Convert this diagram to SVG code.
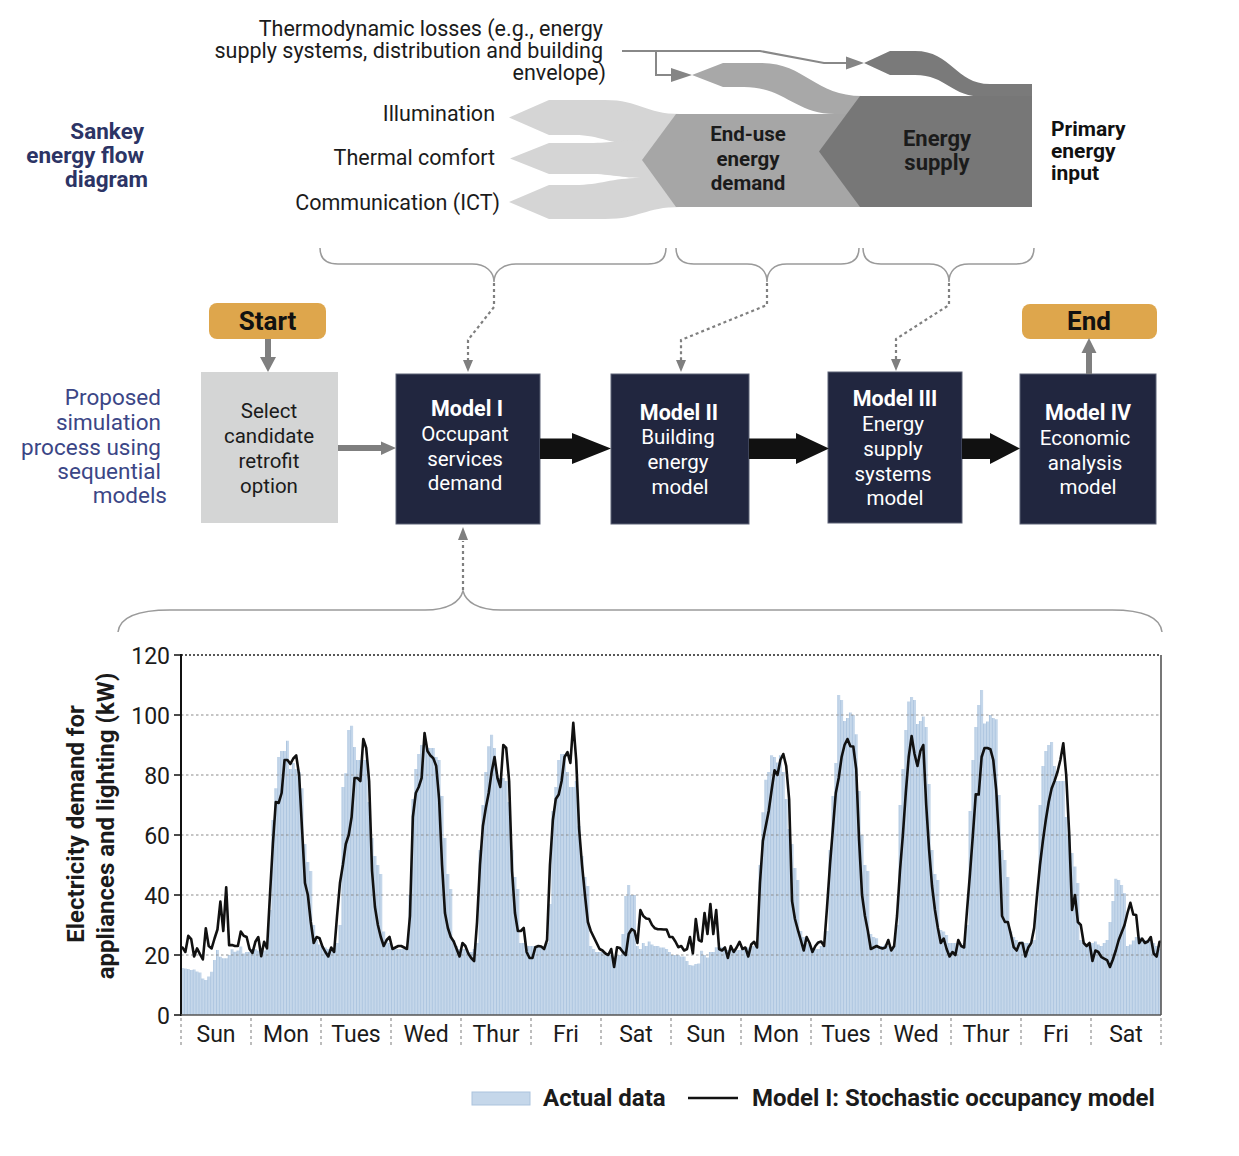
<svg xmlns="http://www.w3.org/2000/svg" width="1239" height="1156" viewBox="0 0 1239 1156">
<style>
text{font-family:Roboto,"Liberation Sans",Arial,sans-serif}
.sk{font-size:21.5px;fill:#1b1b1b;text-anchor:end}
.ttl{font-size:22.5px;font-weight:700;fill:#2c3465;text-anchor:end}
.prop{font-size:22.5px;fill:#3b4686;text-anchor:end}
.blk{font-weight:700;fill:#1b1b1b;text-anchor:middle}
.pri{font-size:21px;font-weight:700;fill:#111}
.bx{font-size:20.5px;fill:#fff;text-anchor:middle}
.bxb{font-size:21.5px;font-weight:700;fill:#fff;text-anchor:middle}
.sel{font-size:20.5px;fill:#1b1b1b;text-anchor:middle}
.term{font-size:26px;font-weight:700;fill:#111;text-anchor:middle}
.ytk{font-size:23px;fill:#1b1b1b;text-anchor:end}
.day{font-size:23px;fill:#1b1b1b;text-anchor:middle}
.axt{font-size:24px;font-weight:700;fill:#1b1b1b;text-anchor:middle}
.leg{font-size:24px;font-weight:700;fill:#1b1b1b}
.model{fill:#21263f;stroke:#5d6277;stroke-width:1}
.gold{fill:#dea64c}
.brace{fill:none;stroke:#9a9a9a;stroke-width:1.5}
.dot{fill:none;stroke:#7f7f7f;stroke-width:2.2;stroke-dasharray:3 3}
.grid{stroke:#8c8c8c;stroke-width:1.2;stroke-dasharray:2.5 2.5}
.sep{stroke:#9a9a9a;stroke-width:1.3;stroke-dasharray:3 3}
</style>
<defs>
<pattern id="barpat" patternUnits="userSpaceOnUse" width="1" height="10">
<rect width="1" height="10" fill="#c5d7ea"/>
<rect width="0.22" height="10" fill="#a3bedb"/>
</pattern>
</defs>
<rect width="1239" height="1156" fill="#fff"/>

<!-- Titles -->
<g id="sankey-title">
<text class="ttl" x="144" y="139">Sankey</text>
<text class="ttl" x="144" y="163">energy flow</text>
<text class="ttl" x="148" y="187">diagram</text>
</g>
<g id="process-title">
<text class="prop" x="161" y="405">Proposed</text>
<text class="prop" x="161" y="430">simulation</text>
<text class="prop" x="161" y="455">process using</text>
<text class="prop" x="161" y="479">sequential</text>
<text class="prop" x="167" y="503">models</text>
</g>

<!-- Sankey diagram -->
<g id="sankey-labels">
<text class="sk" x="603" y="36">Thermodynamic losses (e.g., energy</text>
<text class="sk" x="603" y="58">supply systems, distribution and building</text>
<text class="sk" x="606" y="80">envelope)</text>
<text class="sk" x="495" y="121">Illumination</text>
<text class="sk" x="495" y="165">Thermal comfort</text>
<text class="sk" x="500" y="210">Communication (ICT)</text>
</g>
<g id="sankey-outputs" fill="#d5d5d5">
<path d="M509,117.5 L549,100 L605,100 C640,100 645,114 680,114 L680,145 L640,145 C612,145 600,135 575,135 L549,135 Z"/>
<path d="M510,158.5 L549,143 L590,143 C612,143 620,140 645,140 L680,140 L680,178 L645,178 C620,178 612,174 590,174 L549,174 Z"/>
<path d="M509,202 L549,185 L575,185 C600,185 612,178 640,178 L680,178 L680,207 C645,207 640,219 605,219 L549,219 Z"/>
</g>
<g id="sankey-losses">
<path d="M692,75 L723,63 L761,63 C805,63 815,96 862,96 L862,114 L835,114 C795,114 785,87 744,87 L723,87 Z" fill="#a8a8a8"/>
<path d="M864,63 L890,51 L915,51 C952,51 955,84 990,84 L1032,84 L1032,97 L985,97 C950,97 947,75 915,75 L890,75 Z" fill="#7a7a7a"/>
</g>
<g id="sankey-enduse">
<path d="M642,160 L676,114 L860,114 L860,207 L676,207 Z" fill="#a6a6a6"/>
<text class="blk" font-size="20.5" x="748" y="141">End-use</text>
<text class="blk" font-size="20.5" x="748" y="166">energy</text>
<text class="blk" font-size="20.5" x="748" y="190">demand</text>
</g>
<g id="sankey-supply">
<path d="M819,151.5 L860,96 L1032,96 L1032,207 L860,207 Z" fill="#777777"/>
<text class="blk" font-size="22" x="937" y="146">Energy</text>
<text class="blk" font-size="22" x="937" y="170">supply</text>
</g>
<g id="sankey-primary">
<text class="pri" x="1051" y="136">Primary</text>
<text class="pri" x="1051" y="158">energy</text>
<text class="pri" x="1051" y="180">input</text>
</g>

<!-- Flow nodes -->
<g id="node-start">
<rect class="gold" x="209" y="303" width="117" height="36" rx="8"/>
<text class="term" x="267.5" y="329.5">Start</text>
</g>
<g id="node-select">
<rect x="201" y="372" width="137" height="151" fill="#d4d5d5"/>
<text class="sel" x="269" y="418">Select</text>
<text class="sel" x="269" y="443">candidate</text>
<text class="sel" x="269" y="468">retrofit</text>
<text class="sel" x="269" y="493">option</text>
</g>
<g id="node-model1">
<rect class="model" x="396" y="374" width="144" height="150"/>
<text class="bxb" x="467" y="416">Model I</text>
<text class="bx" x="465" y="441">Occupant</text>
<text class="bx" x="465" y="466">services</text>
<text class="bx" x="465" y="490">demand</text>
</g>
<g id="node-model2">
<rect class="model" x="611" y="374" width="138" height="150"/>
<text class="bxb" x="679" y="420">Model II</text>
<text class="bx" x="678" y="444">Building</text>
<text class="bx" x="678" y="469">energy</text>
<text class="bx" x="680" y="494">model</text>
</g>
<g id="node-model3">
<rect class="model" x="828" y="372" width="134" height="151"/>
<text class="bxb" x="895" y="406">Model III</text>
<text class="bx" x="893" y="431">Energy</text>
<text class="bx" x="893" y="456">supply</text>
<text class="bx" x="893" y="481">systems</text>
<text class="bx" x="895" y="505">model</text>
</g>
<g id="node-model4">
<rect class="model" x="1020" y="374" width="136" height="150"/>
<text class="bxb" x="1088" y="420">Model IV</text>
<text class="bx" x="1085" y="445">Economic</text>
<text class="bx" x="1085" y="470">analysis</text>
<text class="bx" x="1088" y="494">model</text>
</g>
<g id="node-end">
<rect class="gold" x="1022" y="304" width="135" height="35" rx="8"/>
<text class="term" x="1089" y="330">End</text>
</g>

<!-- Connectors -->
<g id="connectors">
<path d="M622,51 L760,51 L824,63 L848,63 M656,51 L656,75 L673,75" fill="none" stroke="#888" stroke-width="2"/>
<path d="M846,56.5 L864,63 L846,69.5 Z M671,68 L692,75 L671,82 Z" fill="#858585"/>
<path class="brace" d="M320,248 C320,258 326,264 338,264 L472,264 C486,264 494,272 494,282 C494,272 502,264 516,264 L648,264 C660,264 666,258 666,248"/>
<path class="brace" d="M676,248 C676,258 682,264 694,264 L747,264 C761,264 767,272 767,282 C767,272 773,264 787,264 L841,264 C853,264 859,258 859,248"/>
<path class="brace" d="M863,248 C863,258 869,264 881,264 L929,264 C943,264 949,272 949,282 C949,272 955,264 969,264 L1016,264 C1028,264 1034,258 1034,248"/>
<path class="brace" d="M118,632 C120,616 140,610 170,610 L425,610 C448,610 460,602 463,591 C466,602 478,610 501,610 L1112,610 C1142,610 1160,616 1162,632"/>
<path class="dot" d="M494,283 L494,307 L468,340 L468,361"/>
<path class="dot" d="M767,283 L767,305 L681,340 L681,361"/>
<path class="dot" d="M949,283 L949,305 L896,339 L896,360"/>
<path class="dot" d="M463,590 L463,541"/>
<path d="M463,360 L473,360 L468,372 Z M676,360 L686,360 L681,372 Z M891,359 L901,359 L896,371 Z M458,540 L468,540 L463,527 Z" fill="#7f7f7f"/>
<path d="M265,339 H271 V357 H276 L268,372 L260,357 H265 Z" fill="#7f7f7f"/>
<path d="M338,445 H381 V441.5 L396,448 L381,455 V451 H338 Z" fill="#7f7f7f"/>
<path d="M1086,374 V353 H1081.5 L1089,338 L1096.5,353 H1092 V374 Z" fill="#7f7f7f"/>
<path d="M540,438.5 H572 V433 L611,448.5 L572,464 V459 H540 Z" fill="#111"/>
<path d="M749,438.5 H796 V433 L829,448.5 L796,464 V459 H749 Z" fill="#111"/>
<path d="M962,438.5 H990 V433 L1020,448.5 L990,464 V459 H962 Z" fill="#111"/>
</g>

<!-- Chart -->
<g id="chart">
<g transform="translate(181,1015) scale(2.916667,-3)">
<path fill="url(#barpat)" d="M0,0V15.7h1V15.5h1V15.3h1V15h1V15.2h1V14.5h1V14.2h1V12.2h1V11.7h1V12.8h1V14.4h1V18.3h1V21.7h1V19.4h1V18.9h1V18.9h1V20h1V21.9h1V21.1h1V21.5h1V22.8h1V20.5h1V21h1V21h1V22h1V22h1V21.5h1V21h1V21.5h1V22h1V35h1V65h1V75.6h1V86h1V88h1V88h1V91.4h1V82h1V84h1V82h1V81h1V75.6h1V57h1V51h1V48h1V30h1V25h1V23.5h1V23h1V22.5h1V22h1V22h1V22.5h1V24h1V30h1V76h1V80.6h1V95h1V96.4h1V89.3h1V85h1V85h1V85h1V85h1V71h1V59h1V53h1V50h1V47h1V27.8h1V25h1V24h1V22h1V22h1V22h1V22h1V22h1V22h1V40h1V72h1V82h1V87h1V90h1V91h1V89h1V89h1V89h1V86h1V85h1V73h1V59h1V47h1V42h1V25h1V23h1V22h1V22h1V22h1V21h1V21h1V22h1V24h1V55h1V70h1V81h1V89.6h1V93.4h1V89h1V80h1V79h1V79h1V78h1V71h1V55h1V46h1V42h1V24h1V24h1V23h1V23h1V23h1V23h1V23h1V23h1V23h1V24h1V37h1V68h1V76h1V85h1V87h1V87h1V81h1V76h1V76h1V78h1V63h1V53h1V46h1V43h1V23h1V22h1V21h1V21h1V21h1V20h1V20h1V20h1V19.5h1V20h1V20h1V27h1V39.7h1V43.3h1V40h1V40h1V23h1V22h1V24h1V23h1V24.5h1V23.5h1V23h1V23h1V22.5h1V22.5h1V22h1V21h1V20h1V20h1V20h1V19.5h1V19.5h1V18h1V16.7h1V16.5h1V17h1V17.2h1V21.4h1V20h1V19.2h1V21h1V21h1V22.6h1V22.6h1V22.6h1V22h1V21.7h1V21.7h1V21.7h1V21.7h1V21.7h1V22h1V22h1V22.5h1V23h1V23h1V24h1V50h1V67.6h1V78.4h1V81h1V86.6h1V86h1V84.2h1V86.6h1V81h1V72h1V62h1V57h1V49h1V45h1V28h1V26h1V24h1V23.5h1V22h1V22h1V22h1V23h1V23h1V28h1V55h1V73h1V84h1V106.7h1V105h1V98h1V99h1V100.8h1V100h1V93.6h1V74.7h1V60h1V50h1V48h1V27h1V26h1V25.6h1V23h1V23h1V23.5h1V23h1V22.5h1V23h1V30h1V70h1V82h1V95h1V104.5h1V106h1V105h1V97h1V98h1V99.5h1V96h1V77h1V55h1V47h1V45h1V28.3h1V27.8h1V26.7h1V24h1V24h1V24h1V23.5h1V23h1V24h1V30h1V68h1V85h1V96h1V103.3h1V108.3h1V97.2h1V97.8h1V100h1V99h1V98.6h1V73.3h1V55h1V51.7h1V46h1V27.8h1V26h1V25h1V24h1V24.5h1V24h1V24h1V23.5h1V25h1V35h1V70h1V83h1V88h1V90h1V91h1V83h1V78h1V78h1V78h1V66h1V60h1V54h1V49.5h1V44h1V25h1V24h1V23h1V23h1V24h1V24.5h1V23.5h1V23h1V24h1V25h1V31h1V38h1V45.4h1V45h1V43.3h1V40.6h1V23h1V23.5h1V24.8h1V26h1V26h1V25.5h1V25h1V25h1V24.5h1V24h1V23h1V22h1V0Z"/>
</g>
<g id="gridlines">
<line class="grid" x1="181" y1="715" x2="1161" y2="715"/>
<line class="grid" x1="181" y1="775" x2="1161" y2="775"/>
<line class="grid" x1="181" y1="835" x2="1161" y2="835"/>
<line class="grid" x1="181" y1="895" x2="1161" y2="895"/>
<line class="grid" x1="181" y1="955" x2="1161" y2="955"/>
<line x1="181" y1="655" x2="1161" y2="655" stroke="#222" stroke-width="1.6" stroke-dasharray="2 2"/>
</g>
<g transform="translate(181,1015) scale(2.916667,-3)">
<polyline fill="none" stroke="#111" stroke-width="2.6" stroke-linejoin="round" vector-effect="non-scaling-stroke" points="0,22.5 0.5,22.5 1.5,21 2.5,26.4 3.5,25.3 4.5,19.5 5.5,22.2 6.5,20.3 7.5,18.5 8.5,28.9 9.5,23 10.5,22.2 11.5,25.5 12.5,28.5 13.5,37.8 14.5,28 15.5,42.6 16.5,23.3 17.5,23.3 18.5,23 19.5,23 20.5,27.8 21.5,26.4 22.5,26 23.5,22 24.5,20.7 25.5,24.4 26.5,26 27.5,19.6 28.5,24.4 29.5,22.2 30.5,40 31.5,57 32.5,71 33.5,70.7 34.5,74 35.5,85 36.5,85 37.5,83.7 38.5,85.5 39.5,86.5 40.5,80 41.5,62 42.5,44 43.5,40 44.5,31 45.5,24 46.5,26 47.5,25.6 48.5,22.8 49.5,21 50.5,19.5 51.5,22.5 52.5,21 53.5,33 54.5,44 55.5,50 56.5,57 57.5,60 58.5,66 59.5,79 60.5,79 61.5,78 62.5,92 63.5,89 64.5,78 65.5,48 66.5,36 67.5,30 68.5,26 69.5,23 70.5,25 71.5,26 72.5,22 73.5,22.5 74.5,23 75.5,23 76.5,22.5 77.5,22 78.5,33 79.5,66 80.5,74 81.5,76 82.5,79 83.5,94 84.5,88 85.5,86.5 86.5,85.6 87.5,83 88.5,72 89.5,50 90.5,34 91.5,29 92.5,26 93.5,24.5 94.5,22 95.5,19.5 96.5,24 97.5,23 98.5,20.5 99.5,19 100.5,18 101.5,31 102.5,50 103.5,63 104.5,69 105.5,74 106.5,81 107.5,86 108.5,79 109.5,76 110.5,90 111.5,89 112.5,78 113.5,48 114.5,34 115.5,28 116.5,28 117.5,29 118.5,21 119.5,19 120.5,19 121.5,22.6 122.5,23 123.5,22.8 124.5,22 125.5,25 126.5,50 127.5,65 128.5,72 129.5,73.5 130.5,78 131.5,86 132.5,87.6 133.5,84 134.5,97.4 135.5,85 136.5,62 137.5,50 138.5,40 139.5,31 140.5,28 141.5,26 142.5,24 143.5,22 144.5,21.5 145.5,20.5 146.5,20 147.5,22 148.5,16 149.5,22.6 150.5,22.3 151.5,21 152.5,20 153.5,27 154.5,28.6 155.5,28 156.5,24 157.5,35 158.5,33 159.5,32.2 160.5,32 161.5,30 162.5,28.9 163.5,28.6 164.5,28.6 165.5,28.5 166.5,28.5 167.5,26 168.5,26 169.5,24.5 170.5,22.6 171.5,23 172.5,21.5 173.5,22 174.5,26 175.5,20.5 176.5,32 177.5,25 178.5,24.5 179.5,34 180.5,27 181.5,37 182.5,27 183.5,35 184.5,22 185.5,21.5 186.5,22.5 187.5,19 188.5,23 189.5,21 190.5,22.5 191.5,24.4 192.5,22 193.5,22.5 194.5,19.5 195.5,23.5 196.5,24.4 197.5,22.5 198.5,44 199.5,58 200.5,63 201.5,68 202.5,75 203.5,81.6 204.5,80 205.5,85 206.5,87 207.5,83 208.5,72 209.5,38 210.5,32 211.5,28.4 212.5,25 213.5,21.5 214.5,26 215.5,24 216.5,21 217.5,23 218.5,24.2 219.5,24.5 220.5,23 221.5,36 222.5,50 223.5,62 224.5,74 225.5,79 226.5,86 227.5,90 228.5,92 229.5,89.6 230.5,89.5 231.5,82 232.5,58 233.5,40 234.5,33 235.5,28 236.5,22 237.5,22.5 238.5,23 239.5,22.5 240.5,22.2 241.5,22.5 242.5,25 243.5,21.5 244.5,23 245.5,33 246.5,48 247.5,60 248.5,74 249.5,86 250.5,93 251.5,87 252.5,83 253.5,88 254.5,90 255.5,70 256.5,55 257.5,43 258.5,35 259.5,29 260.5,24 261.5,25.5 262.5,22 263.5,19.5 264.5,21 265.5,20 266.5,25 267.5,23 268.5,22.5 269.5,35 270.5,47 271.5,60 272.5,73.6 273.5,73.5 274.5,86 275.5,89 276.5,89 277.5,88.6 278.5,85 279.5,75 280.5,58 281.5,33 282.5,31 283.5,31 284.5,27 285.5,22.6 286.5,21.5 287.5,24 288.5,24 289.5,19.5 290.5,22.5 291.5,24 292.5,29 293.5,40 294.5,50 295.5,58 296.5,65 297.5,71 298.5,75.5 299.5,78 300.5,81 301.5,85 302.5,90.6 303.5,80 304.5,61 305.5,35 306.5,40 307.5,31 308.5,30 309.5,24 310.5,23 311.5,24 312.5,18 313.5,21.5 314.5,21 315.5,19.4 316.5,18.8 317.5,18.3 318.5,16 319.5,18.5 320.5,21.5 321.5,25 322.5,27.5 323.5,30 324.5,34 325.5,37.4 326.5,33.5 327.5,33.3 328.5,24 329.5,25.5 330.5,24 331.5,24.5 332.5,26 333.5,20.5 334.5,19.5 335.5,24.4 336,24.4"/>
</g>
<g id="axes">
<line x1="181" y1="654" x2="181" y2="1016" stroke="#111" stroke-width="2"/>
<line x1="1161" y1="655" x2="1161" y2="1015" stroke="#555" stroke-width="1.6"/>
<line x1="181" y1="1015" x2="1161" y2="1015" stroke="#555" stroke-width="1.6"/>
<path d="M174,655H181M174,715H181M174,775H181M174,835H181M174,895H181M174,955H181M174,1015H181" stroke="#111" stroke-width="1.6"/>
<text class="ytk" x="170" y="664">120</text>
<text class="ytk" x="170" y="724">100</text>
<text class="ytk" x="170" y="784">80</text>
<text class="ytk" x="170" y="844">60</text>
<text class="ytk" x="170" y="904">40</text>
<text class="ytk" x="170" y="964">20</text>
<text class="ytk" x="170" y="1024">0</text>
<text class="axt" transform="translate(84,824) rotate(-90)">Electricity demand for</text>
<text class="axt" transform="translate(114,826) rotate(-90)">appliances and lighting (kW)</text>
</g>
<g id="days">
<path class="sep" d="M181,1018V1046M251,1018V1046M321,1018V1046M391,1018V1046M461,1018V1046M531,1018V1046M601,1018V1046M671,1018V1046M741,1018V1046M811,1018V1046M881,1018V1046M951,1018V1046M1021,1018V1046M1091,1018V1046M1161,1018V1046"/>
<text class="day" x="216" y="1042">Sun</text>
<text class="day" x="286" y="1042">Mon</text>
<text class="day" x="356" y="1042">Tues</text>
<text class="day" x="426" y="1042">Wed</text>
<text class="day" x="496" y="1042">Thur</text>
<text class="day" x="566" y="1042">Fri</text>
<text class="day" x="636" y="1042">Sat</text>
<text class="day" x="706" y="1042">Sun</text>
<text class="day" x="776" y="1042">Mon</text>
<text class="day" x="846" y="1042">Tues</text>
<text class="day" x="916" y="1042">Wed</text>
<text class="day" x="986" y="1042">Thur</text>
<text class="day" x="1056" y="1042">Fri</text>
<text class="day" x="1126" y="1042">Sat</text>
</g>
<g id="legend">
<rect x="472" y="1092" width="58" height="13" fill="#c5d7ea" stroke="#abc3dd" stroke-width="1"/>
<text class="leg" x="543" y="1106">Actual data</text>
<line x1="688" y1="1098" x2="738" y2="1098" stroke="#111" stroke-width="2.6"/>
<text class="leg" x="752" y="1106">Model I: Stochastic occupancy model</text>
</g>
</g>
</svg>
